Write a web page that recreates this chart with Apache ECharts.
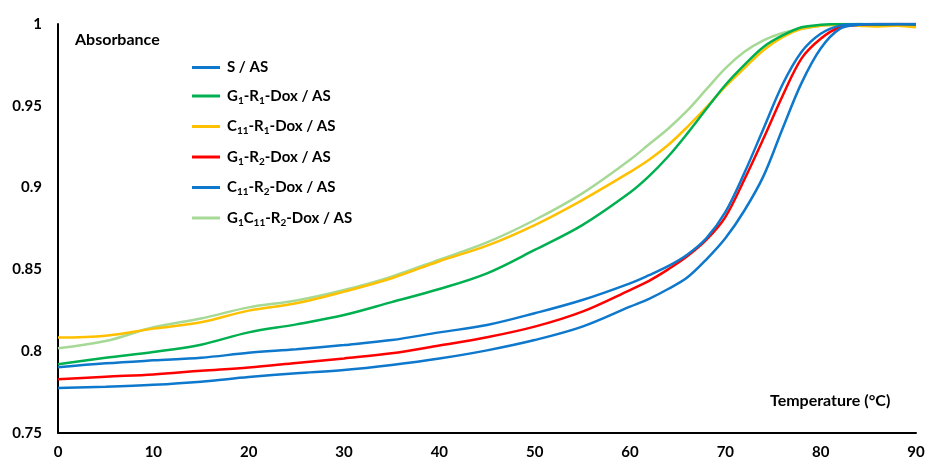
<!DOCTYPE html>
<html>
<head>
<meta charset="utf-8">
<script src="https://cdn.jsdelivr.net/npm/echarts@6/dist/echarts.min.js"></script>
<style>html,body{margin:0;padding:0;background:#fff}#c{width:934px;height:462px}</style>
</head>
<body>
<div id="c"></div>
<script>
// Temperature (°C)
const temps = [0,5,10,15,20,25,30,35,40,45,50,55,60,62,64,66,68,70,72,74,76,78,80,82,84,86,88,90];
// Absorbance per sample
const sAS      = [0.7775,0.7783,0.7795,0.7814,0.7842,0.7865,0.7885,0.7916,0.7955,0.8005,0.8068,0.815,0.8272,0.832,0.838,0.845,0.856,0.869,0.886,0.907,0.936,0.964,0.985,0.997,0.9995,1.0,1.0,1.0];
const g1r1     = [0.792,0.796,0.7995,0.804,0.8115,0.8164,0.8221,0.830,0.838,0.8476,0.8619,0.8771,0.897,0.907,0.919,0.933,0.948,0.9627,0.975,0.986,0.993,0.998,0.9995,1.0,1.0,0.9995,1.0,0.9995];
const c11r1    = [0.8083,0.8095,0.8138,0.8177,0.8248,0.8293,0.8364,0.8446,0.855,0.8645,0.8771,0.8924,0.9095,0.917,0.926,0.937,0.949,0.9617,0.973,0.984,0.992,0.997,0.999,0.9995,0.999,0.9985,0.999,0.998];
const g1r2     = [0.7828,0.7844,0.7858,0.788,0.790,0.7928,0.7956,0.7987,0.8035,0.8085,0.815,0.8242,0.8374,0.843,0.850,0.858,0.868,0.882,0.905,0.930,0.956,0.979,0.991,0.998,0.9995,1.0,1.0,1.0];
const c11r2    = [0.7902,0.7926,0.7944,0.796,0.799,0.8012,0.8038,0.8068,0.8115,0.816,0.8232,0.8313,0.8415,0.8465,0.852,0.859,0.869,0.885,0.909,0.936,0.963,0.983,0.994,0.999,1.0,1.0,1.0,1.0];
const g1c11r2  = [0.8018,0.8062,0.8146,0.820,0.8268,0.831,0.8374,0.8456,0.856,0.8665,0.8802,0.8965,0.917,0.9265,0.936,0.947,0.960,0.9729,0.983,0.990,0.9945,0.997,0.999,0.9995,1.0,0.9995,1.0,0.999];
const xTicks = [0,10,20,30,40,50,60,70,80,90];
const yTicks = [0.75,0.8,0.85,0.9,0.95,1];

const names = ['S / AS','G1-R1-Dox / AS','C11-R1-Dox / AS','G1-R2-Dox / AS','C11-R2-Dox / AS','G1C11-R2-Dox / AS'];
const labels = {
  'S / AS': 'S / AS',
  'G1-R1-Dox / AS': 'G{s|1}-R{s|1}-Dox / AS',
  'C11-R1-Dox / AS': 'C{s|11}-R{s|1}-Dox / AS',
  'G1-R2-Dox / AS': 'G{s|1}-R{s|2}-Dox / AS',
  'C11-R2-Dox / AS': 'C{s|11}-R{s|2}-Dox / AS',
  'G1C11-R2-Dox / AS': 'G{s|1}C{s|11}-R{s|2}-Dox / AS'
};
const colors = ['#0E78CC','#00B050','#FFC000','#FF0000','#0E78CC','#A6D995'];
const datas = [sAS,g1r1,c11r1,g1r2,c11r2,g1c11r2];
const FONT = 'Lato';

const chart = echarts.init(document.getElementById('c'), null, {renderer:'canvas'});
const order = [5,2,1,3,0,4];
chart.setOption({
  animation:false,
  backgroundColor:'#fff',
  grid:{left:58,right:18,top:24,bottom:29,outerBoundsMode:'none'},
  xAxis:{type:'value',min:0,max:90,interval:10,
    axisLine:{show:true,lineStyle:{color:'#000',width:2}},
    axisTick:{show:false},splitLine:{show:false},
    axisLabel:{color:'#000',fontFamily:FONT,fontWeight:'bold',fontSize:15,margin:12,
      customValues:xTicks}},
  yAxis:{type:'value',min:0.75,max:1,interval:0.05,
    axisLine:{show:true,lineStyle:{color:'#000',width:2}},
    axisTick:{show:false},splitLine:{show:false},
    axisLabel:{color:'#000',fontFamily:FONT,fontWeight:'bold',fontSize:15,margin:16,
      customValues:yTicks, formatter:v=>String(+v.toFixed(2))}},
  legend:{orient:'vertical',left:187,top:55,itemWidth:28,itemHeight:3,itemGap:13.5,icon:'rect',
    data:names,
    formatter:n=>labels[n],
    textStyle:{color:'#000',fontFamily:FONT,fontWeight:'bold',fontSize:15,padding:[0,0,0,2],
      rich:{s:{fontFamily:FONT,fontWeight:'bold',fontSize:10,color:'#000',padding:[9,0,0,0]}}}},
  graphic:[
    {type:'text',left:75,top:32,style:{text:'Absorbance',fill:'#000',font:'bold 16px '+FONT}},
    {type:'text',left:770,top:393,style:{text:'Temperature (°C)',fill:'#000',font:'bold 16px '+FONT}}
  ],
  series: order.map(i=>({
    name:names[i],type:'line',showSymbol:false,symbol:'none',smooth:0.35,
    color:colors[i],lineStyle:{color:colors[i],width:2.5},
    data:temps.map((t,k)=>[t,datas[i][k]])
  }))
});
</script>
</body>
</html>
